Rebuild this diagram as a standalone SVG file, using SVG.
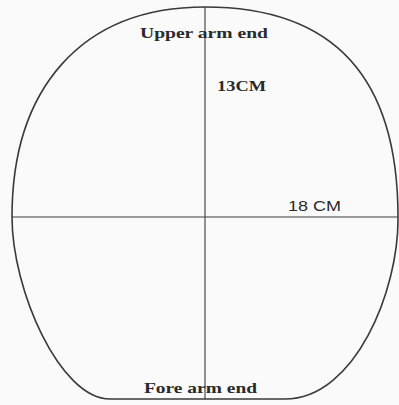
<svg xmlns="http://www.w3.org/2000/svg" width="399" height="405" viewBox="0 0 399 405">
<style>
.outline{fill:none;stroke:#3a3a3a;stroke-width:1.6}
.axis{stroke:#3a3a3a;stroke-width:1.1}
.lbl{font-family:"Liberation Serif","Times New Roman",serif;font-weight:bold;font-size:14px;fill:#2a2a2a}
.dim{font-family:"Liberation Sans",Arial,sans-serif;font-size:14px;fill:#2a2a2a}
</style>
<rect width="399" height="405" fill="#fafafa"/>
<g id="shape">
<path class="outline" d="M 205 7 C 345 7, 398 90, 398 217 C 399 290, 355 399, 285 399 L 110 399 C 60 399, 12 290, 12 217 C 12 90, 80 7, 205 7 Z"/>
</g>
<g id="connectors">
<line class="axis" x1="205" y1="7" x2="205" y2="399"/>
<line class="axis" x1="12" y1="217" x2="398" y2="217"/>
</g>
<g id="upper"><text class="lbl" x="140" y="38" textLength="128" lengthAdjust="spacingAndGlyphs">Upper arm end</text></g>
<g id="len13"><text class="lbl" x="217" y="91" textLength="49" lengthAdjust="spacingAndGlyphs">13CM</text></g>
<g id="len18"><text class="dim" x="288" y="211" textLength="53" lengthAdjust="spacingAndGlyphs">18 CM</text></g>
<g id="fore"><text class="lbl" x="144" y="393" textLength="113" lengthAdjust="spacingAndGlyphs">Fore arm end</text></g>
</svg>
